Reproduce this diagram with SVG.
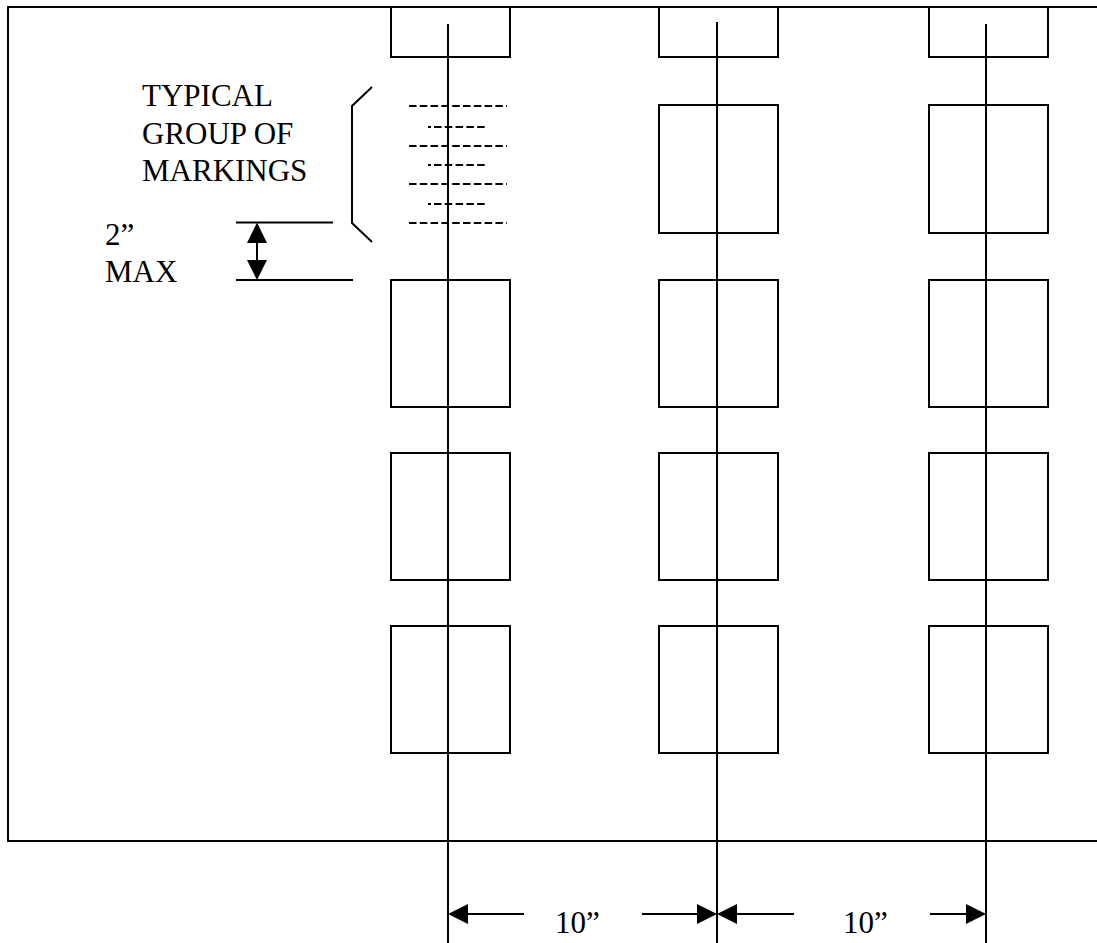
<svg xmlns="http://www.w3.org/2000/svg" width="1097" height="943" viewBox="0 0 1097 943">
<style>
.ln{stroke:#000;stroke-width:2;fill:none}
.bx{stroke:#000;stroke-width:2;fill:none}
.ds{stroke:#000;stroke-width:2;fill:none;stroke-dasharray:7.5 3.3}
.ah{fill:#000;stroke:none}
.t{font-family:"Liberation Serif","Times New Roman",serif;font-size:31px;fill:#000}
</style>
<rect width="1097" height="943" fill="#fff"/>
<g id="frame">
<path class="ln" d="M1097,7 H8 V841 H1097"/>
</g>
<g id="boxes">
<g id="box-c1-r0"><path class="bx" d="M391,7 V57 H510 V7"/></g>
<g id="box-c2-r0"><path class="bx" d="M659,7 V57 H778 V7"/></g>
<g id="box-c3-r0"><path class="bx" d="M929,7 V57 H1048 V7"/></g>
<g id="box-c2-r1"><rect class="bx" x="659" y="105" width="119" height="128"/></g>
<g id="box-c3-r1"><rect class="bx" x="929" y="105" width="119" height="128"/></g>
<g id="box-c1-r2"><rect class="bx" x="391" y="280" width="119" height="127"/></g>
<g id="box-c2-r2"><rect class="bx" x="659" y="280" width="119" height="127"/></g>
<g id="box-c3-r2"><rect class="bx" x="929" y="280" width="119" height="127"/></g>
<g id="box-c1-r3"><rect class="bx" x="391" y="453" width="119" height="127"/></g>
<g id="box-c2-r3"><rect class="bx" x="659" y="453" width="119" height="127"/></g>
<g id="box-c3-r3"><rect class="bx" x="929" y="453" width="119" height="127"/></g>
<g id="box-c1-r4"><rect class="bx" x="391" y="626" width="119" height="127"/></g>
<g id="box-c2-r4"><rect class="bx" x="659" y="626" width="119" height="127"/></g>
<g id="box-c3-r4"><rect class="bx" x="929" y="626" width="119" height="127"/></g>
</g>
<g id="markings">
<line class="ds" x1="409" y1="106" x2="507" y2="106"/>
<line class="ds" x1="409" y1="146" x2="507" y2="146"/>
<line class="ds" x1="409" y1="184" x2="507" y2="184"/>
<line class="ds" x1="409" y1="223" x2="507" y2="223"/>
<line class="ds" x1="428" y1="127" x2="488" y2="127" style="stroke-dasharray:3 3 7.5 3.3 7.5 3.3 7.5 3.3 7.5 3.3 7.5 3.3"/>
<line class="ds" x1="428" y1="165" x2="488" y2="165" style="stroke-dasharray:3 3 7.5 3.3 7.5 3.3 7.5 3.3 7.5 3.3 7.5 3.3"/>
<line class="ds" x1="428" y1="204" x2="488" y2="204" style="stroke-dasharray:3 3 7.5 3.3 7.5 3.3 7.5 3.3 7.5 3.3 7.5 3.3"/>
</g>
<g id="connectors">
<line class="ln" x1="448" y1="24" x2="448" y2="943"/>
<line class="ln" x1="717" y1="22" x2="717" y2="943"/>
<line class="ln" x1="986" y1="24" x2="986" y2="943"/>
<path class="ln" d="M372,87 L352,106 V223 L372,242"/>
<line class="ln" x1="236" y1="222.5" x2="333" y2="222.5"/>
<line class="ln" x1="236" y1="280" x2="353" y2="280"/>
<line class="ln" x1="257" y1="240" x2="257" y2="262"/>
<path class="ah" d="M257,222.5 L247,243 H267 Z"/>
<path class="ah" d="M257,280 L247,260 H267 Z"/>
<line class="ln" x1="466" y1="914" x2="524" y2="914"/>
<line class="ln" x1="642" y1="914" x2="698" y2="914"/>
<path class="ah" d="M448,914 L468,904 V924 Z"/>
<path class="ah" d="M717,914 L697,904 V924 Z"/>
<line class="ln" x1="735" y1="914" x2="794" y2="914"/>
<line class="ln" x1="930" y1="914" x2="967" y2="914"/>
<path class="ah" d="M717,914 L737,904 V924 Z"/>
<path class="ah" d="M986,914 L966,904 V924 Z"/>
</g>
<g id="labels">
<text class="t" x="142" y="106">TYPICAL</text>
<text class="t" x="142" y="144">GROUP OF</text>
<text class="t" x="142" y="181">MARKINGS</text>
<text class="t" x="105" y="245">2”</text>
<text class="t" x="105" y="282">MAX</text>
<text class="t" x="555" y="933">10”</text>
<text class="t" x="843" y="933">10”</text>
</g>
</svg>
